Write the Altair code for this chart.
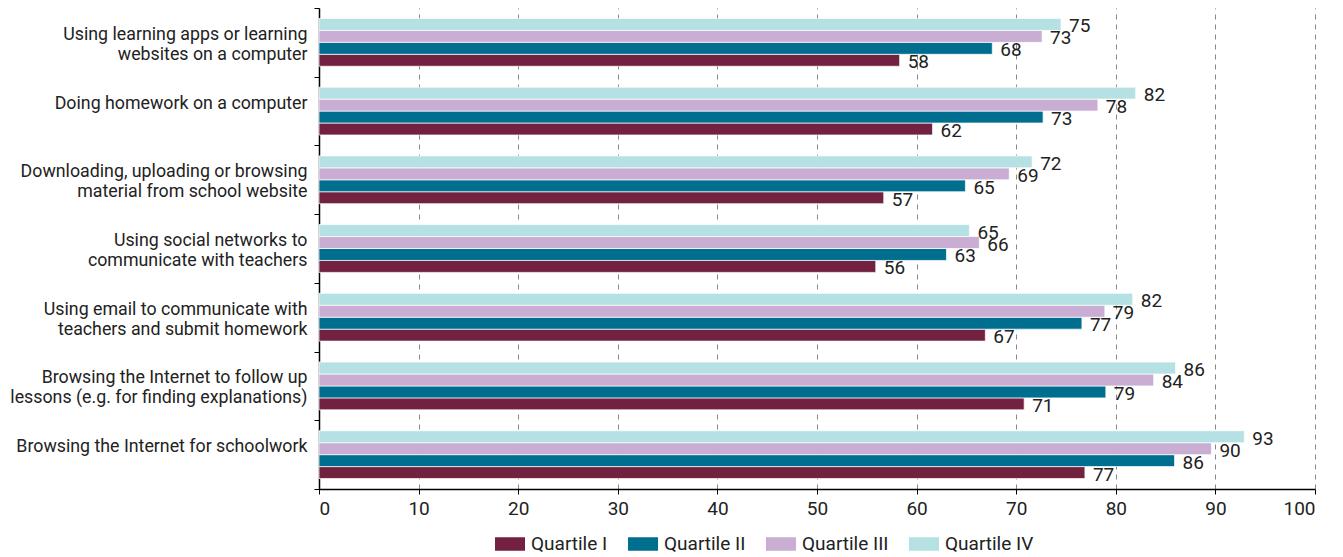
import altair as alt
import pandas as pd

categories = [
    "Using learning apps or learning|websites on a computer",
    "Doing homework on a computer",
    "Downloading, uploading or browsing|material from school website",
    "Using social networks to|communicate with teachers",
    "Using email to communicate with|teachers and submit homework",
    "Browsing the Internet to follow up|lessons (e.g. for finding explanations)",
    "Browsing the Internet for schoolwork",
]
quartiles = ["Quartile I", "Quartile II", "Quartile III", "Quartile IV"]
q1 = [58.3, 61.6, 56.7, 55.9, 66.9, 70.8, 76.9]
q2 = [67.6, 72.7, 64.9, 63.0, 76.6, 79.0, 85.9]
q3 = [72.6, 78.2, 69.3, 66.3, 78.9, 83.8, 89.6]
q4 = [74.5, 82.0, 71.6, 65.3, 81.7, 86.0, 92.9]
colors = ["#722140", "#006E8E", "#C9ADD2", "#B5E1E4"]
x_ticks = [0, 10, 20, 30, 40, 50, 60, 70, 80, 90, 100]

rows = []
for name, vals in zip(quartiles, [q1, q2, q3, q4]):
    for c, v in zip(categories, vals):
        rows.append({"category": c, "quartile": name, "value": v})
df = pd.DataFrame(rows)

FONT = "Roboto"

base = alt.Chart(df).encode(
    x=alt.X(
        "value:Q",
        scale=alt.Scale(domain=[0, 100], nice=False, zero=True),
        axis=alt.Axis(
            title=None,
            values=x_ticks,
            grid=True,
            gridDash=[5, 5],
            gridColor="#888888",
            gridWidth=1,
            domainColor="#000000",
            domainWidth=1.5,
            tickColor="#000000",
            tickSize=5,
            labelPadding=5,
            labelFont=FONT,
            labelFontSize=19,
            labelColor="#222222",
        ),
    ),
    y=alt.Y(
        "category:N",
        sort=categories,
        scale=alt.Scale(paddingInner=0, paddingOuter=0),
        axis=alt.Axis(
            title=None,
            labelExpr="split(datum.label, '|')",
            labelOffset=-8,
            tickBand="extent",
            tickSize=5,
            tickColor="#000000",
            domainColor="#000000",
            domainWidth=1.5,
            labelPadding=7,
            labelLimit=0,
            labelFont=FONT,
            labelFontSize=17.8,
            labelLineHeight=20,
            labelColor="#222222",
            grid=False,
        ),
    ),
    yOffset=alt.YOffset(
        "quartile:N",
        sort=quartiles[::-1],
        scale=alt.Scale(paddingInner=0, paddingOuter=0.875),
    ),
)

bars = base.mark_bar(stroke="white", strokeWidth=0.7).encode(
    color=alt.Color(
        "quartile:N",
        scale=alt.Scale(domain=quartiles, range=colors),
        legend=alt.Legend(
            title=None,
            orient="none",
            legendX=176,
            legendY=521,
            direction="horizontal",
            symbolType="M-1,-0.45H1V0.45H-1Z",
            symbolSize=900,
            symbolStrokeWidth=0,
            symbolOpacity=1,
            labelFont=FONT,
            labelFontSize=19,
            labelColor="#222222",
            labelOffset=6,
            columnPadding=20,
            padding=0,
        ),
    )
)

text = base.mark_text(
    align="left", baseline="middle", dx=8, dy=2, font=FONT, fontSize=19, color="#222222"
).encode(text=alt.Text("value:Q", format=".0f"))

chart = (
    alt.layer(bars, text)
    .properties(
        width=996,
        height=481,
        autosize=alt.AutoSizeParams(type="none"),
        padding={"left": 311, "top": 0, "right": 20, "bottom": 66},
        background="white",
    )
    .configure_view(stroke=None)
)

chart.save("out.html", embed_options={"renderer": "svg", "actions": False})
